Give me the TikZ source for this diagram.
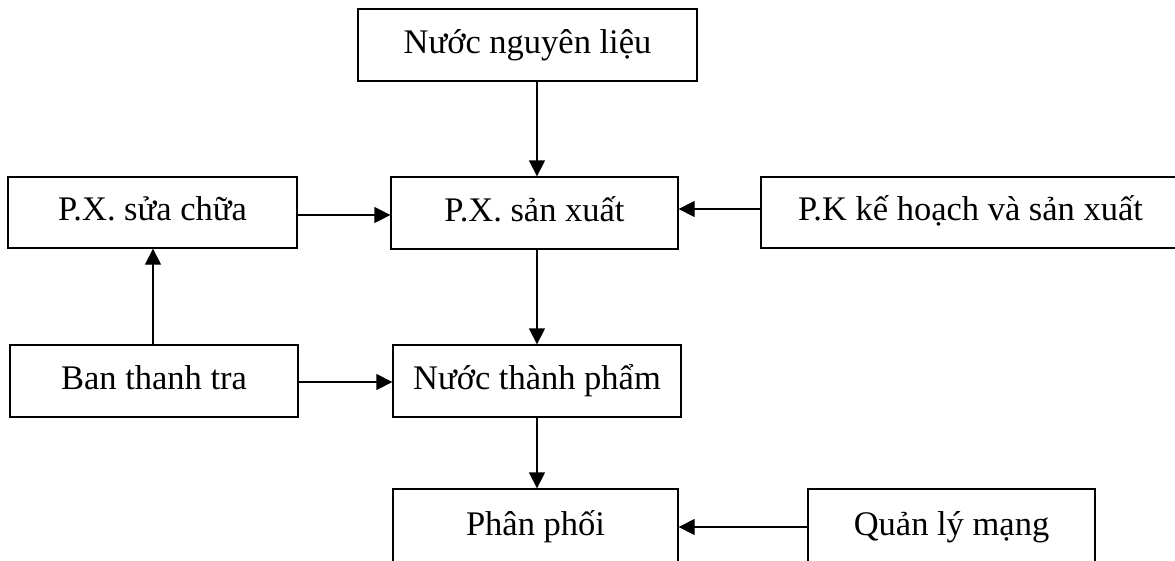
\documentclass[tikz,border=0pt]{standalone}
\usepackage{fontspec}
\setmainfont{Liberation Serif}
\usetikzlibrary{arrows.meta}
\tikzset{
  box/.style={draw=black, line width=1.3pt, fill=white, inner sep=0pt, text height=24pt, text depth=8pt,
              font=\fontsize{34.5}{40}\selectfont},
  arr/.style={draw=black, line width=1.3pt, -{Triangle[length=16pt, width=16pt]}}
}
\begin{document}
\begin{tikzpicture}[x=1pt, y=-1pt]
\useasboundingbox (0,0) rectangle (1175,560);
\node[box, minimum width=339pt, minimum height=72pt] (N1) at (527.5,45) {Nước nguyên liệu};
\node[box, minimum width=289pt, minimum height=71pt] (N2) at (152.5,212.5) {P.X. sửa chữa};
\node[box, minimum width=287pt, minimum height=72pt] (N3) at (534.5,213) {P.X. sản xuất};
\node[box, minimum width=419pt, minimum height=71pt] (N4) at (970.5,212.5) {P.K kế hoạch và sản xuất};
\node[box, minimum width=288pt, minimum height=72pt] (N5) at (154,381) {Ban thanh tra};
\node[box, minimum width=288pt, minimum height=72pt] (N6) at (537,381) {Nước thành phẩm};
\node[box, minimum width=285pt, minimum height=76pt] (N7) at (535.5,527) {Phân phối};
\node[box, minimum width=287pt, minimum height=76pt] (N8) at (951.5,527) {Quản lý mạng};
\coordinate (vmid) at (537,0);
\coordinate (vleft) at (153,0);
\coordinate (hA) at (0,215);
\coordinate (hB) at (0,209);
\coordinate (hC) at (0,382);
\coordinate (hD) at (0,527);
\draw[arr] (N1.south -| vmid) -- (N3.north -| vmid);
\draw[arr] (N3.south -| vmid) -- (N6.north -| vmid);
\draw[arr] (N6.south -| vmid) -- (N7.north -| vmid);
\draw[arr] (N2.east |- hA) -- (N3.west |- hA);
\draw[arr] (N4.west |- hB) -- (N3.east |- hB);
\draw[arr] (N5.north -| vleft) -- (N2.south -| vleft);
\draw[arr] (N5.east |- hC) -- (N6.west |- hC);
\draw[arr] (N8.west |- hD) -- (N7.east |- hD);
\end{tikzpicture}
\end{document}
